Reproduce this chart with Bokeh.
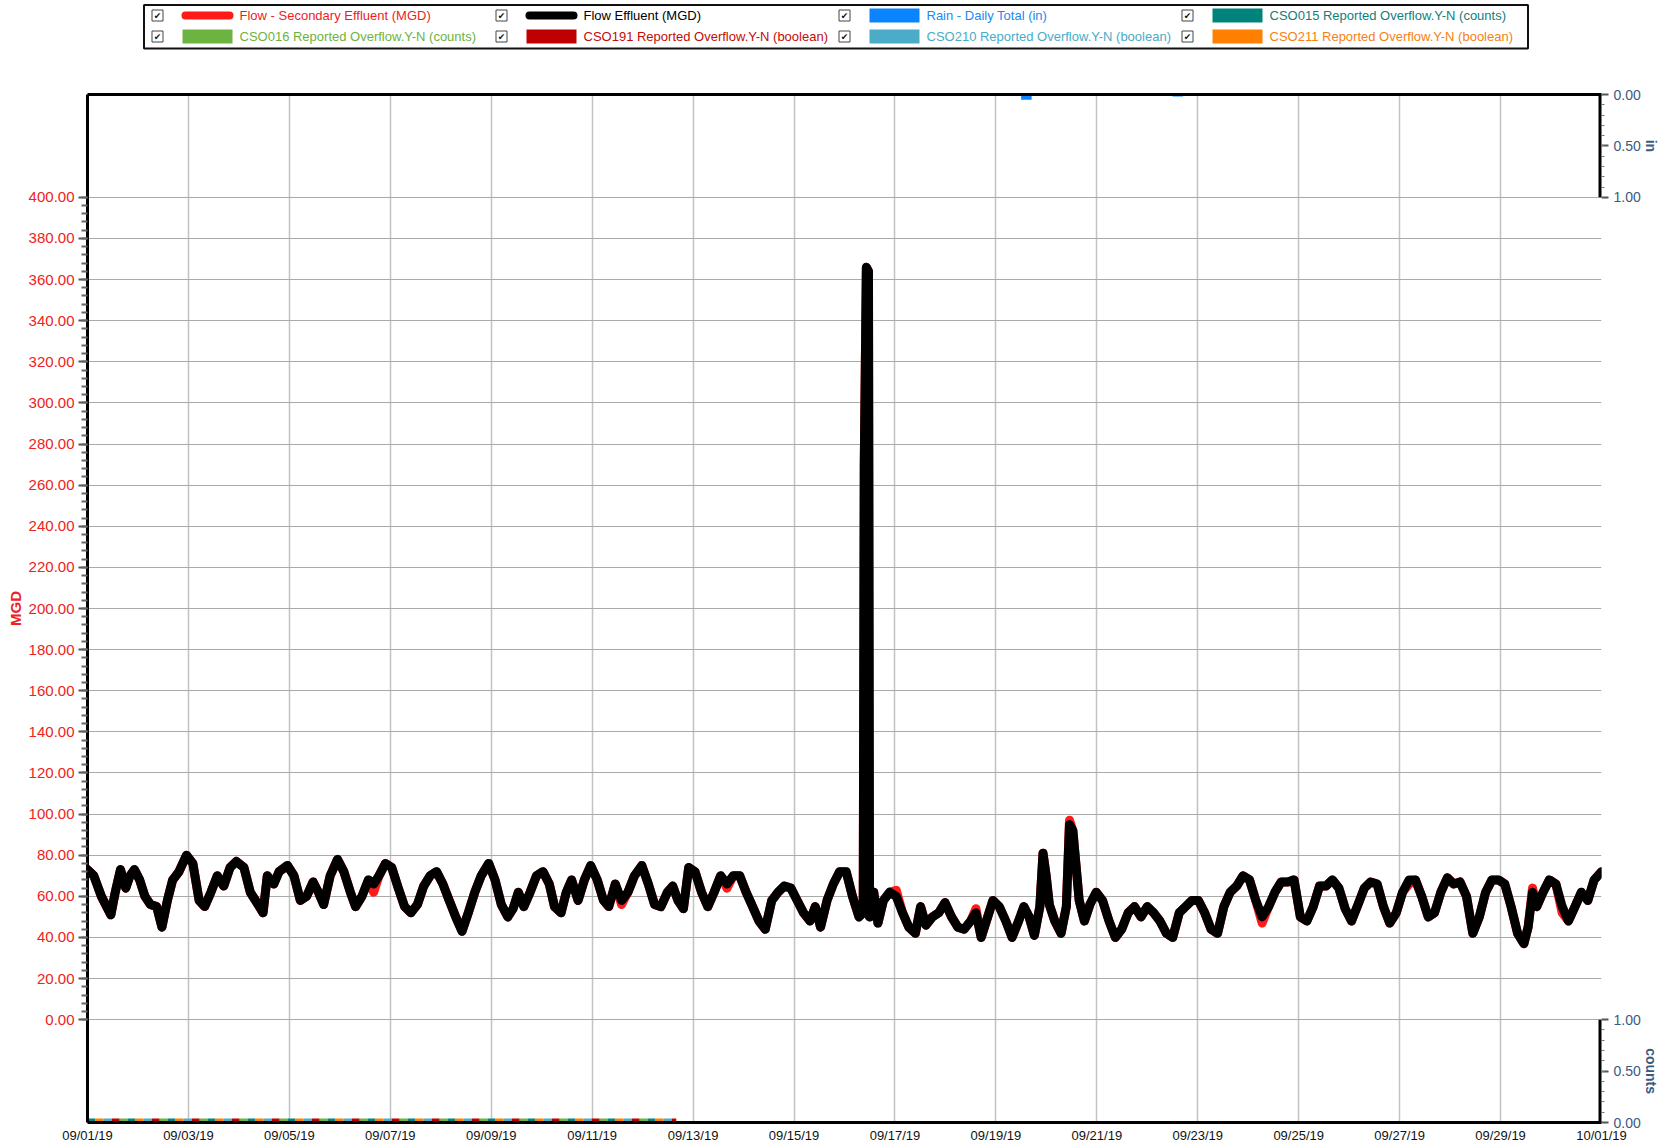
from datetime import datetime, timedelta
import math
from bokeh.plotting import figure
from bokeh.models import (Range1d, LinearAxis, FixedTicker, DaysTicker, DatetimeTickFormatter,
                          NumeralTickFormatter, ColumnDataSource)
from bokeh.layouts import column, row
from bokeh.embed import file_html
from bokeh.resources import INLINE
from bokeh.core.properties import value

FONT = "Liberation Sans"
START = datetime(2019, 9, 1)
END = datetime(2019, 10, 1)

# ---------------- data ----------------
# hours since 09/01/19 00:00
hours = [
    0, 3.0, 6.6, 9.1, 11.1, 13.2, 15.7, 18.2, 20.2, 22.3,
    24.8, 27.3, 29.9, 32.9, 35.4, 38.0, 40.5, 43.5, 47.1, 50.1,
    53.1, 55.7, 58.7, 61.7, 64.8, 67.8, 70.8, 74.4, 77.4, 80.5,
    83.5, 85.5, 88.6, 91.1, 95.1, 98.2, 101.2, 104.2, 107.3, 109.8,
    112.3, 115.4, 118.9, 121.9, 125.0, 127.5, 130.5, 133.6, 136.1, 138.6,
    141.7, 144.7, 147.8, 150.8, 153.8, 156.9, 159.9, 162.9, 166.0, 169.0,
    172.0, 175.1, 178.1, 181.1, 184.2, 187.2, 190.8, 193.8, 196.8, 199.9,
    202.4, 204.9, 207.5, 210.5, 213.5, 216.6, 219.6, 222.1, 225.2, 227.7,
    230.2, 233.3, 236.3, 239.3, 242.4, 245.4, 247.9, 251.0, 254.0, 257.0,
    260.1, 263.6, 266.7, 269.7, 272.7, 275.8, 278.3, 280.8, 283.4, 285.9,
    288.9, 292.0, 295.0, 298.0, 301.1, 304.1, 307.1, 310.2, 313.2, 316.3,
    319.3, 322.3, 325.4, 328.4, 331.4, 334.5, 337.5, 340.5, 343.6, 346.1,
    348.6, 351.7, 354.7, 357.7, 360.8, 363.8, 366.9, 368.9, 369.4, 370.4,
    371.4, 371.9, 373.9, 375.9, 378.5, 381.5, 384.6, 387.6, 390.6, 393.7,
    396.2, 398.7, 401.8, 404.8, 407.8, 410.9, 413.9, 416.9, 420.0, 422.5,
    425.0, 428.1, 430.6, 433.6, 436.7, 439.7, 442.8, 445.3, 447.8, 450.3,
    452.9, 454.4, 455.9, 457.4, 460.0, 463.0, 465.5, 467.0, 468.6, 470.1,
    471.6, 474.1, 476.7, 479.7, 482.7, 485.8, 488.8, 491.8, 494.9, 497.9,
    501.0, 504.0, 507.0, 510.0, 513.1, 516.1, 519.2, 522.2, 525.2, 528.3,
    531.3, 534.3, 537.4, 540.4, 543.4, 546.5, 549.5, 552.6, 555.6, 558.6,
    561.7, 564.7, 567.7, 570.8, 573.8, 576.8, 579.9, 582.9, 585.9, 589.0,
    592.0, 595.1, 598.1, 601.1, 604.2, 607.2, 610.2, 613.3, 616.3, 619.3,
    622.4, 625.4, 628.5, 631.5, 634.5, 637.6, 640.6, 643.6, 646.7, 649.7,
    652.7, 655.8, 658.8, 661.9, 664.9, 667.9, 671.0, 674.0, 677.0, 680.1,
    683.1, 685.1, 687.2, 689.2, 692.2, 695.2, 698.3, 701.3, 704.3, 707.4,
    710.4, 713.5, 716.5, 720.0,
]

flow_effluent_mgd = [
    73, 70, 60, 55, 51, 62, 73, 64, 70, 73,
    68, 60, 56, 55, 45, 58, 68, 72, 80, 76,
    58, 55, 62, 70, 65, 74, 77, 74, 62, 57,
    52, 70, 66, 72, 75, 70, 58, 60, 67, 62,
    56, 70, 78, 72, 62, 55, 60, 68, 66, 70,
    76, 74, 64, 55, 52, 56, 65, 70, 72, 66,
    58, 50, 43, 52, 62, 70, 76, 68, 56, 50,
    54, 62, 55, 62, 70, 72, 66, 55, 52, 62,
    68, 58, 68, 75, 68, 58, 55, 66, 58, 62,
    70, 75, 66, 56, 55, 62, 65, 58, 54, 74,
    72, 62, 55, 62, 70, 66, 70, 70, 62, 55,
    48, 44, 58, 62, 65, 64, 58, 52, 48, 55,
    45, 58, 66, 72, 72, 60, 50, 52, 270, 366,
    364, 50, 62, 47, 58, 62, 60, 52, 45, 42,
    55, 46, 50, 52, 57, 50, 45, 44, 48, 52,
    40, 50, 58, 55, 48, 40, 48, 55, 50, 41,
    55, 81, 70, 56, 48, 42, 55, 95, 92, 75,
    58, 48, 56, 62, 58, 48, 40, 44, 52, 55,
    50, 55, 52, 48, 42, 40, 52, 55, 58, 58,
    52, 44, 42, 55, 62, 65, 70, 68, 58, 50,
    55, 62, 67, 67, 68, 50, 48, 55, 65, 65,
    68, 64, 54, 48, 56, 64, 67, 66, 55, 47,
    52, 62, 68, 68, 60, 50, 52, 62, 69, 66,
    67, 60, 42, 50, 62, 68, 68, 66, 55, 42,
    37, 45, 62, 55, 62, 68, 66, 55, 48, 55,
    62, 58, 68, 72,
]

flow_secondary_mgd = [
    73, 70, 60, 55, 51, 62, 73, 64, 70, 73,
    68, 60, 56, 55, 45, 58, 68, 72, 80, 76,
    58, 55, 62, 70, 65, 74, 77, 74, 62, 57,
    52, 70, 66, 72, 75, 70, 58, 60, 67, 62,
    56, 70, 78, 72, 62, 55, 60, 68, 62, 70,
    76, 74, 64, 55, 52, 56, 65, 70, 72, 66,
    58, 50, 43, 52, 62, 70, 76, 68, 56, 50,
    54, 62, 55, 62, 70, 72, 66, 55, 52, 62,
    68, 58, 68, 75, 68, 58, 55, 66, 56, 62,
    70, 75, 66, 56, 55, 62, 65, 58, 54, 74,
    72, 62, 55, 62, 70, 64, 70, 70, 62, 55,
    48, 44, 58, 62, 65, 64, 58, 52, 48, 55,
    45, 58, 66, 72, 72, 60, 50, 52, 270, 366,
    364, 50, 62, 47, 58, 62, 63, 52, 45, 42,
    55, 46, 50, 52, 57, 50, 45, 44, 48, 54,
    40, 50, 58, 55, 48, 40, 48, 55, 50, 41,
    55, 81, 70, 56, 48, 42, 55, 97, 92, 75,
    58, 48, 56, 62, 58, 48, 40, 44, 52, 55,
    50, 55, 52, 48, 42, 40, 52, 55, 58, 58,
    52, 44, 42, 55, 62, 65, 70, 68, 58, 47,
    55, 62, 67, 67, 68, 50, 48, 55, 65, 65,
    68, 64, 54, 48, 56, 64, 67, 66, 55, 47,
    52, 62, 66, 68, 60, 50, 52, 62, 69, 66,
    67, 60, 42, 50, 62, 68, 68, 66, 55, 42,
    37, 45, 64, 55, 62, 68, 66, 52, 48, 55,
    62, 58, 68, 72,
]

rain_times = ["2019-09-19 14:30", "2019-09-22 14:30"]
rain_daily_in = [0.05, 0.02]

cso_times = ["2019-09-01", "2019-09-02", "2019-09-03", "2019-09-04", "2019-09-05",
             "2019-09-06", "2019-09-07", "2019-09-08", "2019-09-09", "2019-09-10",
             "2019-09-11", "2019-09-12", "2019-09-12 16:00"]
cso015_counts = [0, 0, 0, 0, 0, 0, 0, 0, 0, 0, 0, 0, 0]
cso016_counts = [0, 0, 0, 0, 0, 0, 0, 0, 0, 0, 0, 0, 0]
cso191_bool = [0, 0, 0, 0, 0, 0, 0, 0, 0, 0, 0, 0, 0]
cso210_bool = [0, 0, 0, 0, 0, 0, 0, 0, 0, 0, 0, 0, 0]
cso211_bool = [0, 0, 0, 0, 0, 0, 0, 0, 0, 0, 0, 0, 0]

mgd_ticks = [0, 20, 40, 60, 80, 100, 120, 140, 160, 180, 200, 220, 240, 260,
             280, 300, 320, 340, 360, 380, 400]

legend_labels = ["Flow - Secondary Effluent (MGD)", "Flow Effluent (MGD)",
                 "Rain - Daily Total (in)", "CSO015 Reported Overflow.Y-N (counts)",
                 "CSO016 Reported Overflow.Y-N (counts)", "CSO191 Reported Overflow.Y-N (boolean)",
                 "CSO210 Reported Overflow.Y-N (boolean)", "CSO211 Reported Overflow.Y-N (boolean)"]
legend_kinds = ["line", "line", "box", "box", "box", "box", "box", "box"]

# ---------------- styles ----------------
C_SEC = "#ff1a1a"
C_EFF = "#000000"
C_RAIN = "#0a84ff"
C_015 = "#00837b"
C_016 = "#6db33f"
C_191 = "#c00000"
C_210 = "#4aacc6"
C_211 = "#ff8000"
swatch_colors = [C_SEC, C_EFF, C_RAIN, C_015, C_016, C_191, C_210, C_211]
text_colors = ["#ee1c1c", "#000000", "#1a8af5", "#10807a", "#6db33f", "#c40a0a", "#4aacc6", "#f5820f"]
RED_TXT = "#ee2222"
AX_BLUE = "#3a5a80"


def no_align(fig):
    if "frame_align" in fig.properties():
        fig.frame_align = False


# ---------------- legend figure ----------------
LW, LH = 1660, 52
leg = figure(width=LW, height=LH, x_range=Range1d(0, LW), y_range=Range1d(LH, 0),
             x_axis_type=None, y_axis_type=None, output_backend="svg",
             toolbar_location=None, min_border=0)
no_align(leg)
leg.grid.visible = False
leg.outline_line_color = None
leg.background_fill_color = "white"
leg.border_fill_color = "white"

box_l, box_r, box_t, box_b = 143.5, 1527.5, 4.5, 48
leg.quad(left=[box_l], right=[box_r], top=[box_t], bottom=[box_b],
         fill_color=None, line_color="#111111", line_width=2)

col_x = [157, 501, 844, 1187]
row_y = [15, 36]
cb_x, cb_y, tx_x, tx_y, tx_c, tx_t = [], [], [], [], [], []
for i, lab in enumerate(legend_labels):
    cx = col_x[i % 4]
    cy = row_y[i // 4]
    cb_x.append(cx)
    cb_y.append(cy)
    tx_x.append(cx + 82)
    tx_y.append(cy)
    tx_c.append(text_colors[i])
    tx_t.append(lab)
    if legend_kinds[i] == "line":
        leg.segment(x0=[cx + 28], y0=[cy], x1=[cx + 72], y1=[cy], line_width=8,
                    line_color=swatch_colors[i], line_cap="round")
    else:
        leg.rect(x=[cx + 50], y=[cy], width=50, height=14, fill_color=swatch_colors[i],
                 line_color=None)

leg.rect(x=cb_x, y=cb_y, width=11, height=11, fill_color="white", line_color="#444444",
         line_width=1)
leg.text(x=cb_x, y=[v + 0.5 for v in cb_y], text=["\u2714"] * len(cb_x), text_align="center",
         text_baseline="middle", text_font=value("DejaVu Sans"), text_font_size="9px",
         text_color="#111111")
leg.text(x="x", y="y", text="t", text_color="c",
         source=ColumnDataSource(dict(x=tx_x, y=tx_y, t=tx_t, c=tx_c)),
         text_align="left", text_baseline="middle", text_font=value(FONT),
         text_font_size="13px")

# ---------------- main figure ----------------
Y_LO, Y_HI = -50, 450          # main MGD range (panels for rain/counts above and below)
PANEL = 10                      # rain / counts range spanning the full height
MW, MH = 1643, 1094
B_L, B_R, B_T, B_B = 87, 42, 42, 24

p = figure(width=MW, height=MH, x_axis_type="datetime",
           x_range=Range1d(START, END), y_range=Range1d(Y_LO, Y_HI),
           output_backend="svg", toolbar_location=None,
           min_border_left=B_L, min_border_right=B_R, min_border_top=B_T, min_border_bottom=B_B)
no_align(p)
p.extra_y_ranges = {"rain": Range1d(start=PANEL, end=0), "counts": Range1d(start=0, end=PANEL)}
p.outline_line_color = None
p.background_fill_color = "white"
p.border_fill_color = "white"

# left MGD axis
ya = p.yaxis[0]
ya.ticker = FixedTicker(ticks=mgd_ticks, minor_ticks=list(range(0, 401, 4)))
ya.formatter = NumeralTickFormatter(format="0.00")
ya.major_label_text_color = RED_TXT
ya.major_label_text_font = FONT
ya.major_label_text_font_size = "15px"
ya.axis_label = "MGD"
ya.axis_label_text_color = RED_TXT
ya.axis_label_text_font = FONT
ya.axis_label_text_font_style = "bold"
ya.axis_label_text_font_size = "15px"
ya.axis_label_standoff = 2
ya.axis_line_width = 3
ya.axis_line_color = "black"
ya.major_tick_out = 9
ya.major_tick_in = 0
ya.minor_tick_out = 6
ya.minor_tick_in = 0
ya.major_tick_line_color = "#555555"
ya.minor_tick_line_color = "#666666"
ya.major_tick_line_width = 2
ya.minor_tick_line_width = 2
ya.major_label_standoff = 4

# bottom date axis
xa = p.xaxis[0]
xa.ticker = DaysTicker(days=list(range(1, 30, 2)))
xa.formatter = DatetimeTickFormatter(days="%m/%d/%y", months="%m/%d/%y", hours="%m/%d/%y")
xa.major_label_text_font = FONT
xa.major_label_text_font_size = "13px"
xa.major_label_text_color = "#111111"
xa.axis_line_width = 3
xa.axis_line_color = "black"
xa.major_tick_out = 0
xa.major_tick_in = 0
xa.minor_tick_line_color = None
xa.major_label_standoff = 5

# grids
p.xgrid[0].ticker = DaysTicker(days=list(range(1, 30, 2)))
p.xgrid.grid_line_color = "#c2c2c2"
p.xgrid.grid_line_width = 1.5
p.ygrid[0].ticker = FixedTicker(ticks=mgd_ticks)
p.ygrid.grid_line_color = "#aaaaaa"
p.ygrid.grid_line_width = 1

# top border as an empty axis
top_ax = LinearAxis(ticker=FixedTicker(ticks=[]), axis_line_width=3, axis_line_color="black",
                    major_tick_line_color=None, minor_tick_line_color=None,
                    major_label_text_font_size="0px")
p.add_layout(top_ax, "above")

# right axis: rain (in) at the top, counts at the bottom
rain_top, rain_bot = Y_HI, Y_HI - (Y_HI - Y_LO) / PANEL
cnt_top, cnt_bot = Y_LO + (Y_HI - Y_LO) / PANEL, Y_LO
rain_half = (rain_top + rain_bot) / 2
cnt_half = (cnt_top + cnt_bot) / 2
ra = LinearAxis(
    ticker=FixedTicker(
        ticks=[cnt_bot, cnt_half, cnt_top, rain_bot, rain_half, rain_top],
        minor_ticks=[cnt_bot + k * 5 for k in range(1, 10)] + [rain_bot + k * 5 for k in range(1, 10)]),
    major_label_overrides={int(rain_top): "0.00", int(rain_half): "0.50", int(rain_bot): "1.00",
                           int(cnt_top): "1.00", int(cnt_half): "0.50", int(cnt_bot): "0.00"},
    axis_line_color=None,
    major_tick_out=7, major_tick_in=0, minor_tick_out=3, minor_tick_in=0,
    major_tick_line_color="#555555", minor_tick_line_color="#777777",
    major_tick_line_width=2, minor_tick_line_width=1,
    major_label_text_color=AX_BLUE, major_label_text_font=FONT,
    major_label_text_font_size="14px", major_label_standoff=5)
p.add_layout(ra, "right")
p.segment(x0=[END, END], y0=[rain_bot, cnt_bot], x1=[END, END], y1=[rain_top, cnt_top],
          line_width=6, line_color="black")

# series
cso_dt = [datetime.strptime(t, "%Y-%m-%d %H:%M") if " " in t else datetime.strptime(t, "%Y-%m-%d")
          for t in cso_times]
for k, (ser, col) in enumerate([(cso015_counts, C_015), (cso016_counts, C_016),
                                (cso191_bool, C_191), (cso210_bool, C_210),
                                (cso211_bool, C_211)]):
    p.line(cso_dt, ser, y_range_name="counts", line_color=col, line_width=8,
           line_dash="8 32", line_dash_offset=k * 8)

times = [START + timedelta(hours=h) for h in hours]
p.line(times, flow_secondary_mgd, line_color=C_SEC, line_width=9, line_join="round",
       line_cap="round")
p.line(times, flow_effluent_mgd, line_color=C_EFF, line_width=9, line_join="round",
       line_cap="round")

rain_dt = [datetime.strptime(t, "%Y-%m-%d %H:%M") for t in rain_times]
p.vbar(x=rain_dt, top=rain_daily_in, bottom=0, width=5 * 3600 * 1000,
       y_range_name="rain", fill_color=C_RAIN, line_color=None)

# ---------------- side strip with the right-axis titles ----------------
SW = LW - MW
side = figure(width=SW, height=MH, x_range=Range1d(0, SW), y_range=Range1d(MH, 0),
              x_axis_type=None, y_axis_type=None, output_backend="svg",
              toolbar_location=None, min_border=0)
no_align(side)
side.grid.visible = False
side.outline_line_color = None
side.background_fill_color = "white"
side.border_fill_color = "white"
frame_h = MH - B_T - B_B
side.text(x=[SW / 2 - 1, SW / 2 - 1],
          y=[B_T + frame_h / PANEL / 2, MH - B_B - frame_h / PANEL / 2],
          text=["in", "counts"], angle=-math.pi / 2, text_align="center",
          text_baseline="middle", text_color=AX_BLUE, text_font=value(FONT),
          text_font_style="bold", text_font_size="14px")

layout = column(leg, row(p, side, spacing=0), spacing=0)
open("out.html", "w").write(file_html(layout, INLINE, "Flow chart"))
